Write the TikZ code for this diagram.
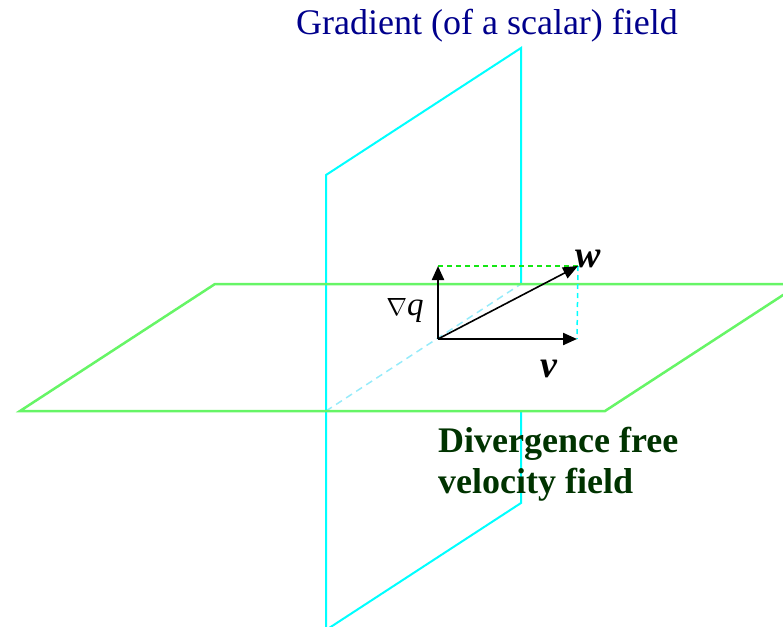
\documentclass[tikz,border=0pt]{standalone}
\usepackage{fontspec}
\setmainfont{Liberation Serif}
\usetikzlibrary{arrows.meta}
\definecolor{cyanline}{RGB}{0,255,255}
\definecolor{greenline}{RGB}{102,245,102}
\definecolor{hiddencyan}{RGB}{150,235,250}
\definecolor{dashgreen}{RGB}{20,230,20}
\definecolor{titleblue}{RGB}{0,0,140}
\definecolor{darkgreen}{RGB}{0,51,0}
\begin{document}
\begin{tikzpicture}[x=1pt,y=-1pt,
  cplane/.style={draw=cyanline,line width=2pt,line join=miter},
  gplane/.style={draw=greenline,line width=2.5pt,line join=miter},
  hidden/.style={draw=hiddencyan,line width=1.5pt,dash pattern=on 7pt off 5pt},
  projg/.style={draw=dashgreen,line width=1.5pt,dash pattern=on 5pt off 4pt},
  projc/.style={draw=cyanline,line width=1.5pt,dash pattern=on 5pt off 4pt},
  vec/.style={line width=2.2pt,-{Triangle[length=14pt,width=12pt]}},
  vecthin/.style={line width=1.6pt,-{Triangle[length=15pt,width=12pt]}},
  lbl/.style={inner sep=0pt,font=\fontsize{38}{40}\selectfont\bfseries\itshape}]
\useasboundingbox (0,0) rectangle (783,626);
\clip (0,0) rectangle (783,626);
% corners
\coordinate (c1) at (326,175);
\coordinate (c2) at (521,48);
\coordinate (c3) at (521,503);
\coordinate (c4) at (326,630);
\coordinate (g1) at (215,284);
\coordinate (g2) at (800,284);
\coordinate (g3) at (605,411);
\coordinate (g4) at (20,411);
\coordinate (iA) at (326,411);
\coordinate (iB) at (521,284);
\coordinate (O) at (438,339);
\coordinate (Q) at (438,266);
\coordinate (V) at (577,339);
\coordinate (W) at (578,266);
% hidden intersection line
\draw[hidden] (iA) -- (iB);
% vertical (cyan) plane
\draw[cplane] (iB) -- (c2) -- (c1) -- (c4) -- (c3) -- (521,411);
% horizontal (green) plane
\draw[gplane] (g1) -- (g2) -- (g3) -- (g4) -- cycle;
% projections
\draw[projg] (Q) -- (W);
\draw[projc] (W) -- (V);
% vectors
\draw[vec] (O) -- (Q);
\draw[vec] (O) -- (V);
\draw[vecthin] (O) -- (W);
% labels
\node[lbl,anchor=base] (wl) at (588,267) {w};
\node[lbl,anchor=base] (vl) at (549,377) {v};
\node[inner sep=0pt,anchor=base,font=\fontsize{33}{35}\selectfont] (ql) at (405,315) {$\nabla$\textit{q}};
\node[anchor=base,inner sep=0pt,text=titleblue,font=\fontsize{36}{40}\selectfont] (title) at (487,35) {Gradient (of a scalar) field};
\node[anchor=base west,inner sep=0pt,text=darkgreen,font=\fontsize{36}{40}\selectfont\bfseries] (div1) at (438,452) {Divergence free};
\node[anchor=base west,inner sep=0pt,text=darkgreen,font=\fontsize{36}{40}\selectfont\bfseries] (div2) at (438,493) {velocity field};
\end{tikzpicture}
\end{document}
